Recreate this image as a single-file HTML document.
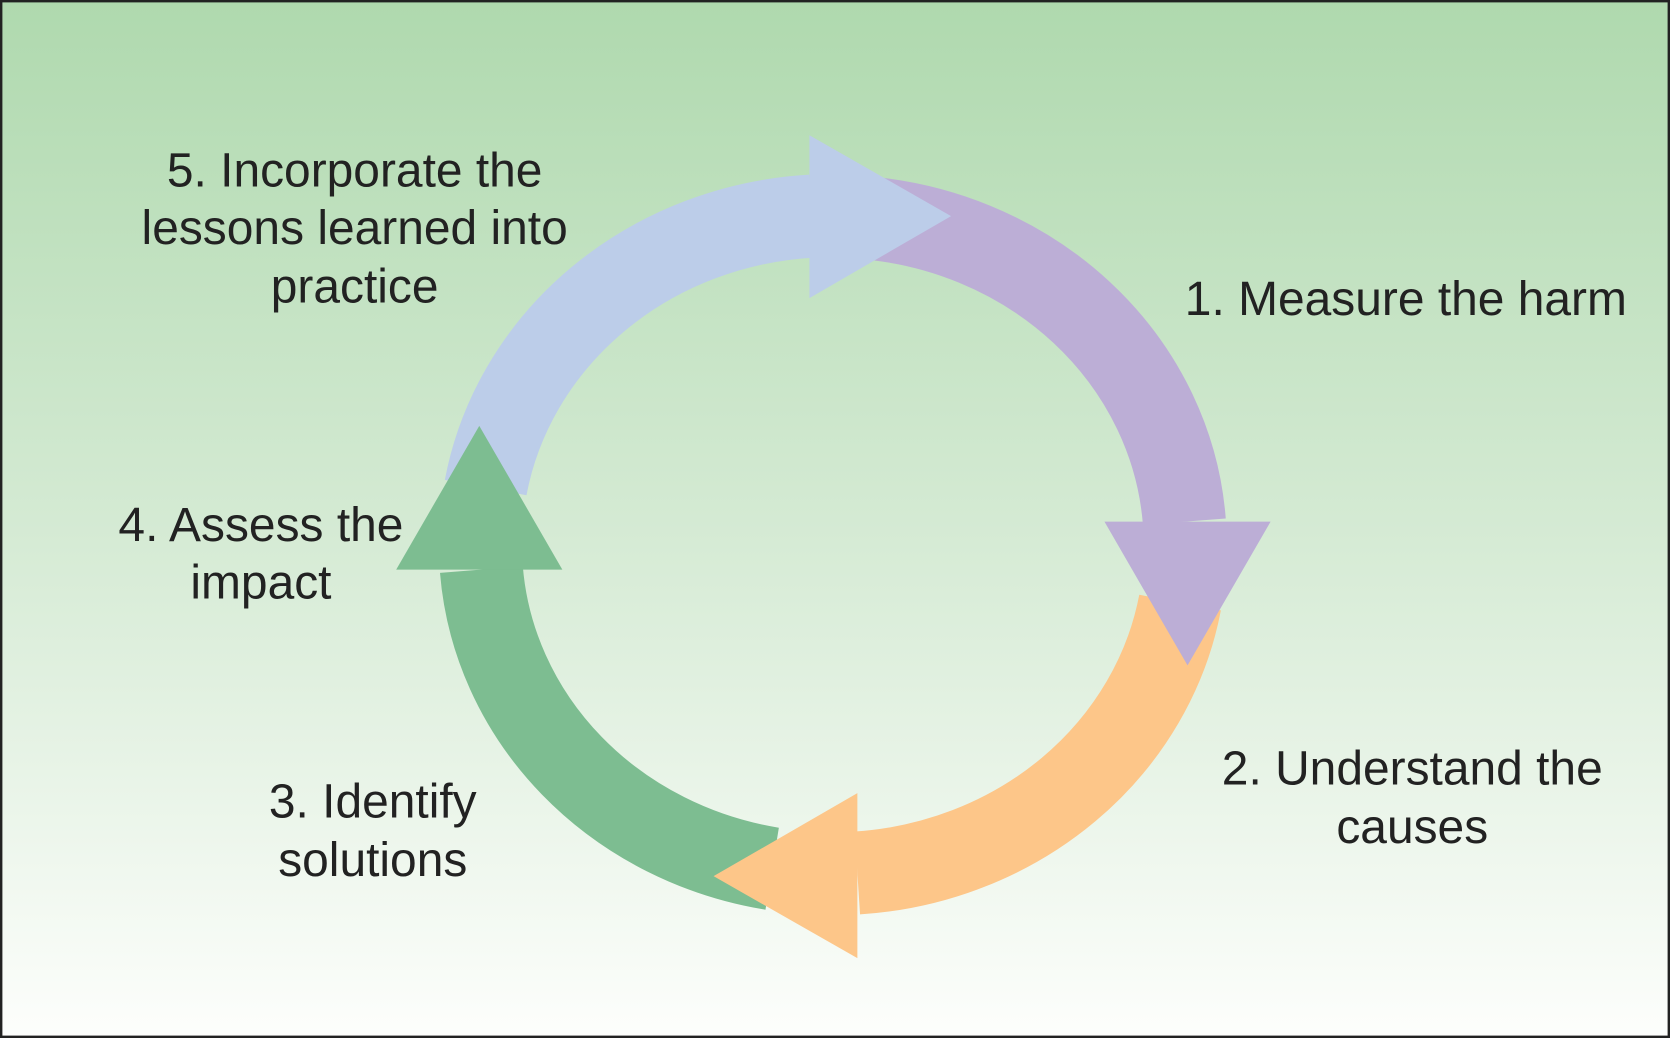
<!DOCTYPE html>
<html><head><meta charset="utf-8"><style>
html,body{margin:0;padding:0;width:1670px;height:1038px;overflow:hidden}
svg{display:block}
text{font-family:"Liberation Sans",Arial,sans-serif;font-size:45px;fill:#222;text-anchor:middle}
</style></head><body>
<svg width="1670" height="1038" viewBox="0 0 1568 975" preserveAspectRatio="none">
<defs><linearGradient id="bg" x1="0" y1="0" x2="0" y2="1">
<stop offset="0" stop-color="#afd9ae"/><stop offset="0.5" stop-color="#d4ead3"/><stop offset="1" stop-color="#fdfefc"/></linearGradient></defs>
<rect x="1" y="1" width="1566" height="973" fill="url(#bg)" stroke="#222" stroke-width="2.5"/>
<g fill="none" stroke-width="78">
<path d="M 805 204 A 331 309 0 0 1 1112 490" stroke="#bcaed6"/>
<path d="M 1108 566 A 331 309 0 0 1 805 820" stroke="#fdc689"/>
<path d="M 725 816 A 331 309 0 0 1 452 535" stroke="#7dbd91"/>
<path d="M 456 458 A 331 309 0 0 1 762 203" stroke="#bccde9"/>
</g>
<polygon points="1037,490 1193,490 1115,625" fill="#bcaed6"/>
<polygon points="805,745 805,900 670,823" fill="#fdc689"/>
<polygon points="372,535 528,535 450,400" fill="#7dbd91"/>
<polygon points="760,127 760,280 893,203" fill="#bccde9"/>
<text x="1320" y="296">1. Measure the harm</text>
<text x="1326" y="737">2. Understand the</text>
<text x="1326" y="792">causes</text>
<text x="350" y="768">3. Identify</text>
<text x="350" y="823">solutions</text>
<text x="245" y="508">4. Assess the</text>
<text x="245" y="562">impact</text>
<text x="333" y="175">5. Incorporate the</text>
<text x="333" y="229">lessons learned into</text>
<text x="333" y="284">practice</text>
</svg>
</body></html>
